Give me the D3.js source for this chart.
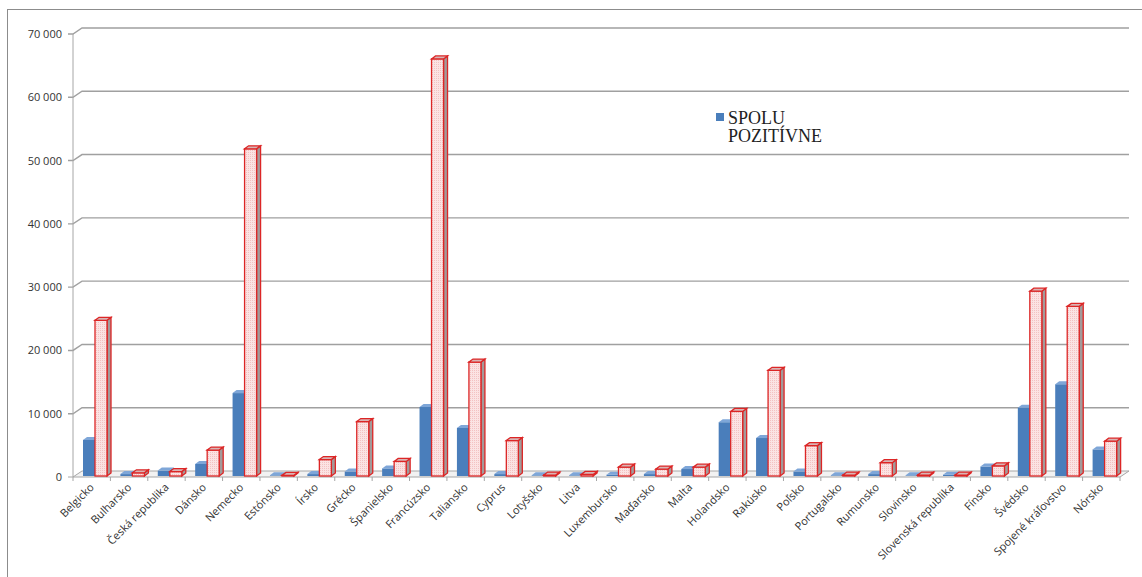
<!DOCTYPE html>
<html lang="sk">
<head>
<meta charset="UTF-8">
<script src="https://d3js.org/d3.v7.min.js" charset="utf-8"></script>
<title>Graf</title>
<style>
  body { margin: 0; background: #fff; }
</style>
</head>
<body>
<div id="chart"></div>
<script>

// udaje odcitane z grafu
const krajiny = ["Belgicko", "Bulharsko", "Česká republika", "Dánsko", "Nemecko", "Estónsko",
  "Írsko", "Grécko", "Španielsko", "Francúzsko", "Taliansko", "Cyprus", "Lotyšsko", "Litva",
  "Luxembursko", "Maďarsko", "Malta", "Holandsko", "Rakúsko", "Poľsko", "Portugalsko",
  "Rumunsko", "Slovinsko", "Slovenská republika", "Fínsko", "Švédsko", "Spojené kráľovstvo", "Nórsko"];
const spoluPozitivne = [5700, 300, 850, 1900, 13100, 100, 300, 700, 1200, 10900, 7600, 300, 100, 100,
  200, 300, 1100, 8500, 6000, 700, 100, 300, 100, 200, 1500, 10800, 14500, 4200];
const druhaSeria = [24600, 500, 700, 4100, 51700, 100, 2600, 8600, 2300, 65900, 18000, 5600, 150, 250,
  1400, 1100, 1400, 10200, 16700, 4800, 150, 2100, 150, 150, 1600, 29200, 26800, 5500];
const yTicks = [0, 10000, 20000, 30000, 40000, 50000, 60000, 70000];

const width = 1142, height = 577;
const plotL = 73, plotR = 1120, plotB = 477, plotT = 34;
const dx = 9, dy = -6;     // posun zadnej steny
const bx = 4, by = -3;     // hlbka stlpcov

const svg = d3.select("#chart").append("svg")
  .attr("width", width)
  .attr("height", height);

// vzor jemnej vyplne
const defs = svg.append("defs");
const pat = defs.append("pattern")
  .attr("id", "bodky")
  .attr("width", 2).attr("height", 2)
  .attr("patternUnits", "userSpaceOnUse");
pat.append("rect").attr("width", 2).attr("height", 2).attr("fill", "#fbe3e3");
pat.append("rect").attr("x", 0).attr("y", 0).attr("width", 1).attr("height", 1).attr("fill", "#f3c2c2");

// ramik
svg.append("rect")
  .attr("x", 7.5).attr("y", 9.5)
  .attr("width", 1200).attr("height", 700)
  .attr("fill", "none")
  .attr("stroke", "#8c8c8c");

const x = d3.scaleBand().domain(krajiny).range([plotL, plotR]);
const y = d3.scaleLinear().domain([0, 70000]).range([plotB, plotT]);
const fmt = d3.formatLocale({ thousands: "\u00a0", grouping: [3], decimal: ",", currency: ["", ""] }).format(",");

// podlaha
svg.append("path")
  .attr("d", d3.line()([[plotL, plotB], [plotR, plotB], [plotR + dx, plotB + dy], [plotL + dx, plotB + dy]]) + "Z")
  .attr("fill", "#f2f2f2")
  .attr("stroke", "#a6a6a6");

// mriezka
const grid = svg.append("g");
yTicks.filter(t => t > 0).forEach(t => {
  grid.append("path")
    .attr("d", d3.line()([[plotL - 5, y(t)], [plotL, y(t)], [plotL + dx, y(t) + dy], [plotR + dx, y(t) + dy]]))
    .attr("fill", "none")
    .attr("stroke", "#a0a0a0")
    .attr("stroke-width", 1.4);
});
grid.append("line")
  .attr("x1", plotL).attr("x2", plotL)
  .attr("y1", plotT).attr("y2", plotB)
  .attr("stroke", "#a6a6a6");
grid.append("line")
  .attr("x1", plotL - 5).attr("x2", plotL)
  .attr("y1", plotB).attr("y2", plotB)
  .attr("stroke", "#a6a6a6");

// popisy osi y
svg.append("g").selectAll("text")
  .data(yTicks)
  .enter().append("text")
  .attr("x", 62)
  .attr("y", d => y(d) + 4)
  .attr("text-anchor", "end")
  .style("font", "11px 'Open Sans', sans-serif")
  .style("fill", "#333")
  .text(d => fmt(d));

// znacky osi x
svg.append("g").selectAll("line")
  .data(krajiny.concat(["koniec"]))
  .enter().append("line")
  .attr("x1", (d, i) => plotL + i * x.step())
  .attr("x2", (d, i) => plotL + i * x.step())
  .attr("y1", plotB).attr("y2", plotB + 4)
  .attr("stroke", "#a6a6a6");

// stlpec s hlbkou
function stlpec(g, x0, w, v, farby) {
  const yt = y(v) - 1, yb = plotB - 1;
  g.append("path")
    .attr("d", d3.line()([[x0 + w, yb], [x0 + w + bx, yb + by], [x0 + w + bx, yt + by], [x0 + w, yt]]) + "Z")
    .attr("fill", farby.bok).attr("stroke", farby.ciara).attr("stroke-width", farby.sirka);
  g.append("rect")
    .attr("x", x0).attr("y", yt)
    .attr("width", w).attr("height", yb - yt)
    .attr("fill", farby.predok).attr("stroke", farby.ciara).attr("stroke-width", farby.sirka);
  g.append("path")
    .attr("d", d3.line()([[x0, yt], [x0 + bx, yt + by], [x0 + w + bx, yt + by], [x0 + w, yt]]) + "Z")
    .attr("fill", farby.vrch).attr("stroke", farby.ciara).attr("stroke-width", farby.sirka);
}

const modra = { predok: "#4a7ebb", vrch: "#7ea6d8", bok: "#34609a", ciara: "none", sirka: 0 };
const cervena = { predok: "url(#bodky)", vrch: "#d9b4b4", bok: "#a39a9a", ciara: "#dc2626", sirka: 1.3 };

const stlpce = svg.append("g");
krajiny.forEach((k, i) => {
  const b = x(k);
  stlpec(stlpce, b + 10, 12, spoluPozitivne[i], modra);
  stlpec(stlpce, b + 22, 12, druhaSeria[i], cervena);
});

// popisy osi x
svg.append("g").selectAll("text")
  .data(krajiny)
  .enter().append("text")
  .attr("transform", d => "translate(" + (x(d) + x.bandwidth() / 2 + 3) + "," + (plotB + 11) + ") rotate(-45)")
  .attr("text-anchor", "end")
  .style("font", "11px 'Open Sans', sans-serif")
  .style("fill", "#333")
  .text(d => d);

// legenda
const leg = svg.append("g");
leg.append("rect")
  .attr("x", 716).attr("y", 113)
  .attr("width", 8).attr("height", 8)
  .attr("fill", "#4a7ebb");
leg.append("text")
  .attr("x", 728).attr("y", 124)
  .style("font", "18px 'Liberation Serif', serif")
  .style("fill", "#222")
  .text("SPOLU");
leg.append("text")
  .attr("x", 728).attr("y", 142)
  .style("font", "18px 'Liberation Serif', serif")
  .style("fill", "#222")
  .text("POZITÍVNE");

</script>
</body>
</html>
